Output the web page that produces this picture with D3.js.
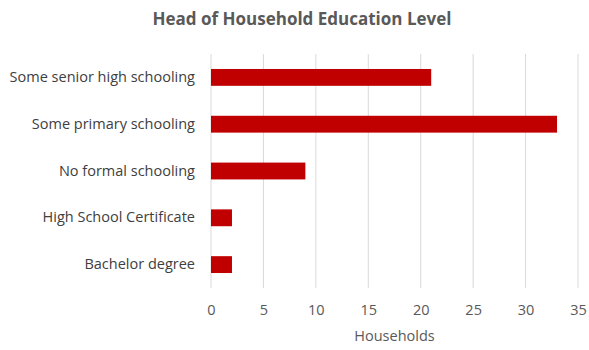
<!DOCTYPE html>
<html>
<head>
<meta charset="utf-8">
<script src="https://cdn.jsdelivr.net/npm/d3@7"></script>
<style>
  html, body { margin: 0; padding: 0; background: #fff; }
  svg { display: block; font-family: "Open Sans", "Liberation Sans", sans-serif; }
</style>
</head>
<body>
<svg id="chart" width="589" height="350"></svg>
<script>
// Education level of household heads (count of households)
const categories = [
  "Some senior high schooling",
  "Some primary schooling",
  "No formal schooling",
  "High School Certificate",
  "Bachelor degree"
];
const households = [21, 33, 9, 2, 2];
const xTicks = [0, 5, 10, 15, 20, 25, 30, 35];

const svg = d3.select("#chart");
const margin = { top: 54, right: 11, bottom: 62, left: 211 };
const W = 589, H = 350;
const innerW = W - margin.left - margin.right;
const innerH = H - margin.top - margin.bottom;

const x = d3.scaleLinear().domain([0, 35]).range([0, innerW]);
const y = d3.scaleBand().domain(categories).range([0, innerH]).paddingInner(0.64).paddingOuter(0.32);

const g = svg.append("g").attr("transform", `translate(${margin.left},${margin.top})`);

// vertical gridlines
g.append("g")
  .selectAll("line")
  .data(xTicks)
  .join("line")
  .attr("x1", d => x(d)).attr("x2", d => x(d))
  .attr("y1", 0).attr("y2", innerH)
  .attr("stroke", "#d9d9d9")
  .attr("stroke-width", 1);

// bars
g.append("g")
  .selectAll("rect")
  .data(categories.map((c, i) => ({ c, v: households[i] })))
  .join("rect")
  .attr("x", x(0))
  .attr("y", d => y(d.c))
  .attr("width", d => x(d.v) - x(0))
  .attr("height", y.bandwidth())
  .attr("fill", "#c00000");

// x axis labels
const xAxis = g.append("g")
  .attr("transform", `translate(0,${innerH})`)
  .call(d3.axisBottom(x).tickValues(xTicks).tickSize(0).tickPadding(17));
xAxis.select(".domain").remove();
xAxis.selectAll("text")
  .attr("fill", "#595959")
  .style("font-size", "14.5px")
  .style("font-family", "'Open Sans', sans-serif");

// y axis labels
const yAxis = g.append("g")
  .call(d3.axisLeft(y).tickSize(0).tickPadding(16));
yAxis.select(".domain").remove();
yAxis.selectAll("text")
  .attr("fill", "#404040")
  .style("font-size", "14.5px")
  .style("font-family", "'Open Sans', sans-serif");

// axis title
svg.append("text")
  .attr("x", margin.left + innerW / 2)
  .attr("y", 341)
  .attr("text-anchor", "middle")
  .attr("fill", "#595959")
  .style("font-size", "14.5px")
  .text("Households");

// chart title
svg.append("text")
  .attr("x", 302)
  .attr("y", 25)
  .attr("text-anchor", "middle")
  .attr("fill", "#595959")
  .style("font-size", "17px")
  .style("font-weight", "bold")
  .text("Head of Household Education Level");
</script>
</body>
</html>
